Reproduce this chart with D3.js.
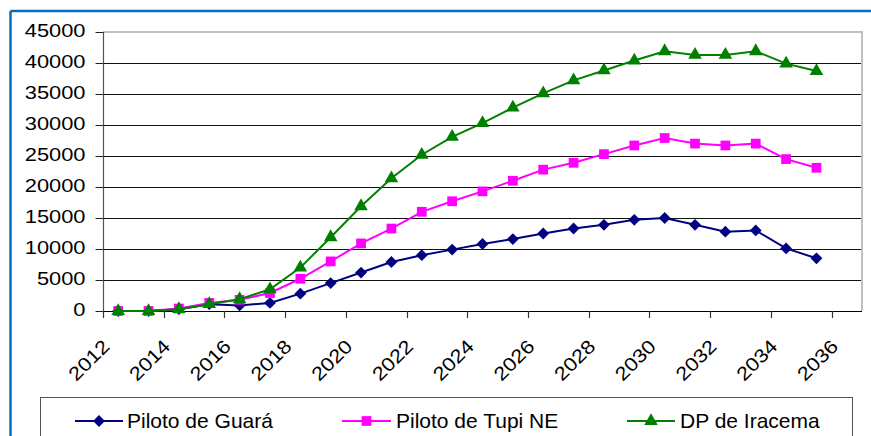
<!DOCTYPE html>
<html><head><meta charset="utf-8">
<script src="https://cdn.jsdelivr.net/npm/d3@7"></script>
<style>html,body{margin:0;padding:0;background:#fff;}svg{display:block;font-family:"Liberation Sans",Arial,sans-serif;}</style>
</head><body>
<script>
const years = [2012,2013,2014,2015,2016,2017,2018,2019,2020,2021,2022,2023,2024,2025,2026,2027,2028,2029,2030,2031,2032,2033,2034,2035,2036];
const tickLabels = [2012,2014,2016,2018,2020,2022,2024,2026,2028,2030,2032,2034,2036];
const yTicks = [0,5000,10000,15000,20000,25000,30000,35000,40000,45000];
const seriesNames = ["Piloto de Guará","Piloto de Tupi NE","DP de Iracema"];
const guara   = [0,0,300,1100,900,1300,2800,4500,6200,7900,9000,9900,10800,11600,12500,13300,13900,14700,15000,13900,12800,13000,10100,8500];
const tupi    = [0,0,400,1300,1800,2900,5200,8000,10900,13300,16000,17700,19300,21000,22800,23900,25300,26700,27900,27000,26700,27000,24500,23100];
const iracema = [0,0,300,1100,1900,3500,7000,11900,16900,21400,25200,28100,30300,32800,35100,37200,38800,40400,41900,41300,41300,41900,39900,38700];

const W = 871, H = 436;
const svg = d3.select("body").append("svg").attr("width", W).attr("height", H);

// outer blue frame (top and left edges visible)
svg.append("line").attr("x1",10.5).attr("x2",W).attr("y1",11).attr("y2",11).attr("stroke","#0070C0").attr("stroke-width",2.5);
svg.append("line").attr("x1",10.5).attr("x2",10.5).attr("y1",11).attr("y2",H).attr("stroke","#0070C0").attr("stroke-width",2.5);

const x = d3.scaleBand().domain(years).range([103, 862]).padding(0);
const y = d3.scaleLinear().domain([0,45000]).range([311, 32]);

// gridlines
svg.append("g").selectAll("line").data(yTicks.filter(v => v>0 && v<45000)).join("line")
  .attr("x1",103).attr("x2",862).attr("y1",d=>Math.round(y(d))+0.5).attr("y2",d=>Math.round(y(d))+0.5)
  .attr("stroke","#111").attr("stroke-width",1);

// plot border top/right
svg.append("line").attr("x1",103).attr("x2",862).attr("y1",32).attr("y2",32).attr("stroke","#c0c0c0").attr("stroke-width",2);
svg.append("line").attr("x1",862).attr("x2",862).attr("y1",31).attr("y2",311).attr("stroke","#c0c0c0").attr("stroke-width",2);

// y axis
const yAxis = d3.axisLeft(y).tickValues(yTicks).tickSize(8).tickPadding(10).tickFormat(d3.format("d"));
const gy = svg.append("g").attr("transform","translate(103.5,0)").call(yAxis);
gy.select(".domain").attr("stroke","#555").attr("stroke-width",1.2).attr("d","M0,32V311");
gy.selectAll(".tick line").attr("stroke","#222");
gy.selectAll(".tick text").attr("font-size",19).attr("fill","#000").attr("font-family","Liberation Sans, Arial, sans-serif")
  .attr("dy","0.25em")
  .attr("transform", function(){ const xx = +d3.select(this).attr("x"); return `translate(${xx},0) scale(1.15,1) translate(${-xx},0)`; });

// x axis: ticks at every second category boundary
const boundaries = years.filter((d,i)=> i%2===0);
const gx = svg.append("g");
gx.append("line").attr("x1",103).attr("x2",862).attr("y1",311.5).attr("y2",311.5).attr("stroke","#000").attr("stroke-width",1.2);
gx.selectAll("line.tk").data(boundaries).join("line").attr("class","tk")
  .attr("x1",d=>Math.round(x(d))+0.5).attr("x2",d=>Math.round(x(d))+0.5).attr("y1",311).attr("y2",318)
  .attr("stroke","#333").attr("stroke-width",1.2);
gx.selectAll("text").data(tickLabels).join("text")
  .attr("transform", d => `translate(${x(d)+x.bandwidth()/2 - 17},${338}) rotate(-45) scale(1.15,1)`)
  .attr("text-anchor","end").attr("dy","0.71em").attr("font-size",19).attr("fill","#000")
  .text(d=>d);

// series
const colors = ["#000080","#FF00FF","#008000"];
const symbols = [d3.symbolSquare, d3.symbolSquare, d3.symbolTriangle];
const symSizes = [70, 95, 80];
const rot = [45, 0, 0];
const dataSets = [guara, tupi, iracema];
const line = d3.line().x((d,i)=>x(years[i])+x.bandwidth()/2).y(d=>y(d));
dataSets.forEach((vals, si) => {
  svg.append("path").datum(vals).attr("d", line).attr("fill","none").attr("stroke",colors[si]).attr("stroke-width",2);
  const sym = d3.symbol().type(symbols[si]).size(symSizes[si]);
  svg.append("g").selectAll("path").data(vals).join("path")
    .attr("d", sym)
    .attr("transform",(d,i)=>`translate(${x(years[i])+x.bandwidth()/2},${y(d)}) rotate(${rot[si]})`)
    .attr("fill",colors[si]);
});

// legend
const lg = svg.append("g");
lg.append("rect").attr("x",40.5).attr("y",397.5).attr("width",812).attr("height",60).attr("fill","#fff").attr("stroke","#555").attr("stroke-width",1);
const legendX = [[75,123,127],[342,391,396],[627,675,680]];
seriesNames.forEach((name, si) => {
  const [x1,x2,tx] = legendX[si];
  const ly = 421;
  lg.append("line").attr("x1",x1).attr("x2",x2).attr("y1",ly).attr("y2",ly).attr("stroke",colors[si]).attr("stroke-width",2);
  const sym = d3.symbol().type(symbols[si]).size(symSizes[si]);
  lg.append("path").attr("d",sym).attr("fill",colors[si])
    .attr("transform", `translate(${(x1+x2)/2},${ly}) rotate(${rot[si]})`);
  lg.append("text").attr("x",tx).attr("y",ly).attr("dy","0.35em").attr("font-size",21).attr("fill","#000").text(name);
});
</script>
</body></html>
